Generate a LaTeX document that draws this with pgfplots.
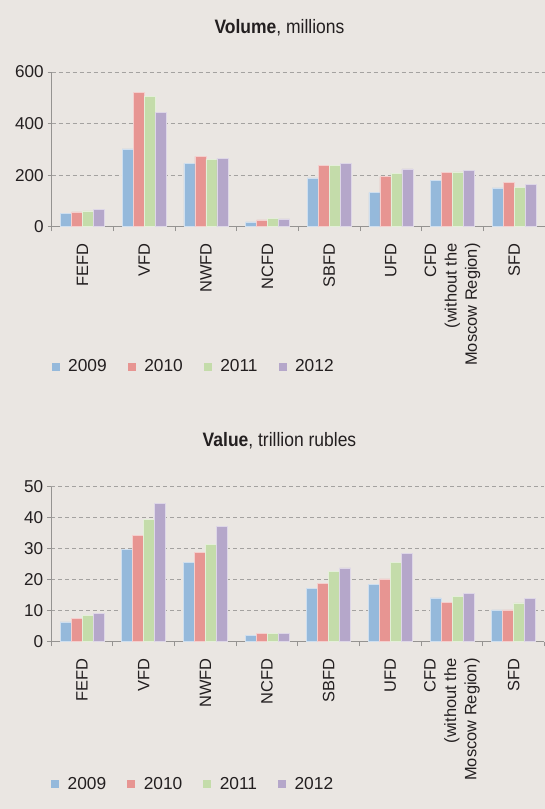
\documentclass[border=0pt]{standalone}
\usepackage{pgfplots}
\usepackage{pgfplotstable}
\pgfplotsset{compat=1.18}
\usepackage{fontspec}
\setmainfont{Liberation Sans}
\newfontfamily\condfont{Liberation Sans}[FakeStretch=0.9]
\definecolor{bg}{HTML}{EAE6E2}
\definecolor{c1}{HTML}{95B9DB}
\definecolor{c2}{HTML}{E79592}
\definecolor{c3}{HTML}{C4DCAA}
\definecolor{c4}{HTML}{B5A7CA}
\definecolor{txt}{HTML}{231F20}
\definecolor{gridc}{HTML}{A4A2A0}
\definecolor{axc}{HTML}{959391}

\pgfplotstableread{
x y2009 y2010 y2011 y2012
0 52 57 61 66
1 302 520 505 442
2 246 273 262 264
3 19 26 32 30
4 189 237 239 246
5 132 194 208 224
6 181 212 213 218
7 151 172 152 164
}\volume

\pgfplotstableread{
x y2009 y2010 y2011 y2012
0 6.4 7.6 8.6 9.2
1 29.9 34.3 39.4 44.7
2 25.5 28.7 31.5 37.1
3 2.1 2.7 2.8 2.8
4 17.3 18.9 22.8 23.8
5 18.4 20.3 25.7 28.6
6 14.1 12.8 14.7 15.6
7 10.3 10.3 12.5 14.0
}\valuetab

\pgfplotsset{
  sq legend/.style={legend image code/.code={\fill[##1,draw=none] (0bp,-4bp) rectangle (8bp,4bp);}},
  regchart/.style={
    scale only axis,
    width=493.3bp,
    anchor=south west,
    xmin=-0.5, xmax=7.5,
    ymin=0,
    ybar=0pt, bar width=11bp,
    axis lines*=left,
    axis line style={axc, line width=1.1bp},
    tick align=outside,
    xtick={0,...,7},
    minor xtick={-0.5,0.5,...,7.5},
    major x tick style={draw=none},
    minor x tick style={axc, line width=0.9bp},
    minor tick length=4.5bp,
    major tick length=4bp,
    y tick style={axc, line width=0.9bp},
    xticklabels={FEFD, VFD, NWFD, NCFD, SBFD, UFD, {CFD\\(without the\\Moscow Region)}, SFD},
    xticklabel style={rotate=90, anchor=east, align=right, inner sep=0pt,
      font=\fontsize{16.5}{20.5}\selectfont, text=txt},
    xticklabel shift=12.5bp,
    yticklabel style={font=\fontsize{17.2}{17.2}\selectfont, text=txt, inner sep=0pt},
    yticklabel shift=3.8bp,
    /pgf/number format/assume math mode=true,
    ymajorgrids,
    grid style={gridc, line width=0.8bp, dash pattern=on 4bp off 3bp},
    enlarge x limits=false,
    legend columns=4,
    legend style={draw=none, fill=none, inner sep=0pt, outer sep=0pt,
      font=\fontsize{17.4}{17.4}\selectfont, text=txt,
      nodes={inner sep=0pt},
      /tikz/every odd column/.append style={column sep=8.5bp},
      /tikz/every even column/.append style={column sep=21bp}},
  }
}

\begin{document}
\begin{tikzpicture}
\path[fill=bg, use as bounding box] (0,0) rectangle (545bp,809bp);

\begin{axis}[regchart, at={(51.7bp,582.3bp)}, height=154.7bp,
  ymax=600, ytick={0,200,400,600},
  legend style={at={(axis description cs:0.0,-0.905)}, anchor=west}]
\addplot[fill=c1, draw=white!55!c1, line width=0.5bp, sq legend] table[x=x,y=y2009]{\volume};
\addplot[fill=c2, draw=white!55!c2, line width=0.5bp, sq legend] table[x=x,y=y2010]{\volume};
\addplot[fill=c3, draw=white!55!c3, line width=0.5bp, sq legend] table[x=x,y=y2011]{\volume};
\addplot[fill=c4, draw=white!55!c4, line width=0.5bp, sq legend] table[x=x,y=y2012]{\volume};
\legend{2009,2010,2011,2012}
\end{axis}
\node[anchor=base, text=txt] at (279.5bp,775.7bp) {\condfont\fontsize{19.5}{20}\selectfont\textbf{Volume}, millions};

\begin{axis}[regchart, at={(51.2bp,167.3bp)}, height=155bp,
  ymax=50, ytick={0,10,...,50},
  legend style={at={(axis description cs:0.0,-0.92)}, anchor=west}]
\addplot[fill=c1, draw=white!55!c1, line width=0.5bp, sq legend] table[x=x,y=y2009]{\valuetab};
\addplot[fill=c2, draw=white!55!c2, line width=0.5bp, sq legend] table[x=x,y=y2010]{\valuetab};
\addplot[fill=c3, draw=white!55!c3, line width=0.5bp, sq legend] table[x=x,y=y2011]{\valuetab};
\addplot[fill=c4, draw=white!55!c4, line width=0.5bp, sq legend] table[x=x,y=y2012]{\valuetab};
\legend{2009,2010,2011,2012}
\end{axis}
\node[anchor=base, text=txt] at (279.5bp,362.3bp) {\condfont\fontsize{19.5}{20}\selectfont\textbf{Value}, trillion rubles};
\end{tikzpicture}
\end{document}
